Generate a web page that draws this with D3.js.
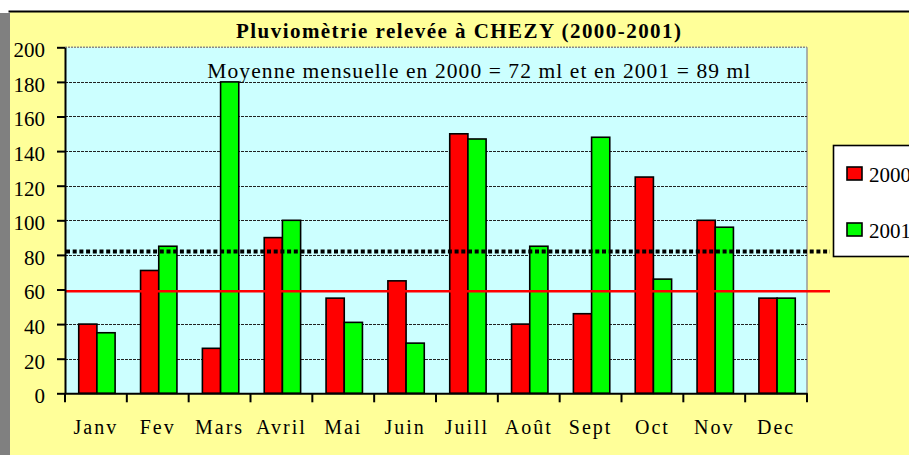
<!DOCTYPE html>
<html><head><meta charset="utf-8">
<script src="https://cdn.jsdelivr.net/npm/d3@7"></script>
<style>
body{margin:0;background:#fff;}
svg{display:block;font-family:"Liberation Serif","Times New Roman",serif;}
</style>
</head><body>
<svg id="c" width="909" height="455"></svg>
<script>
// ---- data ----
const months = ["Janv","Fev","Mars","Avril","Mai","Juin","Juill","Août","Sept","Oct","Nov","Dec"];
const rain2000 = [40,71,26,90,55,65,150,40,46,125,100,55];
const rain2001 = [35,85,180,100,41,29,147,85,148,66,96,55];
const seriesNames = ["2000","2001"];
const seriesColors = ["#FF0000","#00FF00"];
const yTicks = [0,20,40,60,80,100,120,140,160,180,200];
const redLineValue = 59;
const dottedLineValue = 82;
const titleText = "Pluviomètrie relevée à CHEZY (2000-2001)";
const subtitleText = "Moyenne mensuelle en 2000 = 72 ml et en 2001 = 89 ml";

const W = 909, H = 455;
const FONT = "Liberation Serif";
const svg = d3.select("#c");

// ---- outer frame ----
svg.append("rect").attr("x",0).attr("y",13).attr("width",10).attr("height",H-13).attr("fill","#808080");
svg.append("rect").attr("x",10).attr("y",11).attr("width",W-10).attr("height",H-11).attr("fill","#FFFF99");
svg.append("line").attr("x1",8.5).attr("x2",W).attr("y1",11.5).attr("y2",11.5)
  .attr("stroke","#000").attr("stroke-width",2);

// ---- scales ----
const plot = {left:65, right:807, top:47.3, bottom:393.3};
const x0 = d3.scaleBand().domain(months).range([plot.left, plot.right]).padding(0);
const x1 = d3.scaleBand().domain(seriesNames).range([0, x0.bandwidth()])
  .paddingInner(0).paddingOuter(0.7);
const y = d3.scaleLinear().domain([0,200]).range([plot.bottom, plot.top]);

// ---- plot background ----
svg.append("rect").attr("x",plot.left).attr("y",plot.top)
  .attr("width",plot.right-plot.left).attr("height",plot.bottom-plot.top)
  .attr("fill","#CCFFFF");
svg.append("line").attr("x1",plot.left).attr("x2",plot.right)
  .attr("y1",plot.top).attr("y2",plot.top)
  .attr("stroke","#8a8a8a").attr("stroke-width",1.5).attr("stroke-dasharray","2,1");
svg.append("line").attr("x1",plot.right).attr("x2",plot.right)
  .attr("y1",plot.top).attr("y2",plot.bottom)
  .attr("stroke","#999").attr("stroke-width",1.5);

// ---- gridlines ----
svg.append("g").selectAll("line")
  .data(yTicks.filter(v => v > 0 && v < 200))
  .join("line")
  .attr("x1",plot.left).attr("x2",plot.right)
  .attr("y1",d => Math.round(y(d))+0.5).attr("y2",d => Math.round(y(d))+0.5)
  .attr("stroke","#222").attr("stroke-width",1).attr("stroke-dasharray","3,1");

// ---- bars ----
const rows = months.map((m,i) => ({month:m, values:[rain2000[i], rain2001[i]]}));
const groups = svg.append("g").selectAll("g").data(rows).join("g")
  .attr("transform", d => `translate(${x0(d.month)+1},0)`);
groups.selectAll("rect")
  .data(d => d.values.map((v,j) => ({key:seriesNames[j], value:v, color:seriesColors[j]})))
  .join("rect")
  .attr("x", d => x1(d.key))
  .attr("width", x1.bandwidth())
  .attr("y", d => y(d.value))
  .attr("height", d => y(0) - y(d.value))
  .attr("fill", d => d.color)
  .attr("stroke","#000").attr("stroke-width",1.6);

// ---- reference lines ----
svg.append("line").attr("x1",plot.left).attr("x2",830)
  .attr("y1",y(redLineValue)).attr("y2",y(redLineValue))
  .attr("stroke","#FF0000").attr("stroke-width",2.7);
svg.append("line").attr("x1",plot.left+1).attr("x2",830)
  .attr("y1",y(dottedLineValue)).attr("y2",y(dottedLineValue))
  .attr("stroke","#000").attr("stroke-width",4).attr("stroke-dasharray","4,2.7");

// ---- y axis ----
const yAxis = svg.append("g").attr("transform",`translate(${plot.left},0)`)
  .call(d3.axisLeft(y).tickValues(yTicks).tickSize(8).tickSizeOuter(0).tickPadding(12));
yAxis.attr("font-family",FONT);
yAxis.select(".domain").attr("stroke","#000").attr("stroke-width",2);
yAxis.selectAll(".tick line").attr("stroke","#000").attr("stroke-width",2);
yAxis.selectAll("text").attr("font-size",21).attr("fill","#000").attr("dy","0.45em");

// ---- x axis ----
const xAxis = svg.append("g").attr("transform",`translate(0,${plot.bottom})`)
  .call(d3.axisBottom(x0).tickSize(0).tickSizeOuter(0).tickPadding(26.8));
xAxis.attr("font-family",FONT);
xAxis.select(".domain").attr("stroke","#000").attr("stroke-width",2);
xAxis.selectAll("text").attr("font-size",20).attr("fill","#000")
  .attr("letter-spacing","2px");
const bounds = months.map(m => x0(m)).concat([plot.right]);
xAxis.append("g").selectAll("line").data(bounds).join("line")
  .attr("x1",d => d).attr("x2",d => d).attr("y1",0).attr("y2",9)
  .attr("stroke","#000").attr("stroke-width",2);

// ---- titles ----
svg.append("text").attr("x",458.5).attr("y",38.3).attr("text-anchor","middle")
  .attr("font-family",FONT).attr("font-size",21).attr("font-weight","bold")
  .attr("textLength",445).attr("lengthAdjust","spacing")
  .text(titleText);
svg.append("text").attr("x",207.3).attr("y",78.3)
  .attr("font-family",FONT).attr("font-size",21.5)
  .attr("textLength",543).attr("lengthAdjust","spacing")
  .text(subtitleText);

// ---- legend ----
const legend = svg.append("g").attr("font-family",FONT);
legend.append("rect").attr("x",833.5).attr("y",145.5).attr("width",110).attr("height",111)
  .attr("fill","#fff").attr("stroke","#000").attr("stroke-width",1.6);
const li = legend.selectAll("g.item").data(seriesNames).join("g").attr("class","item")
  .attr("transform",(d,i) => `translate(847,${167 + i*56})`);
li.append("rect").attr("width",15).attr("height",13)
  .attr("fill",(d,i) => seriesColors[i]).attr("stroke","#000").attr("stroke-width",1.6);
li.append("text").attr("x",22).attr("y",15).attr("font-size",21).text(d => d);
</script>
</body></html>
